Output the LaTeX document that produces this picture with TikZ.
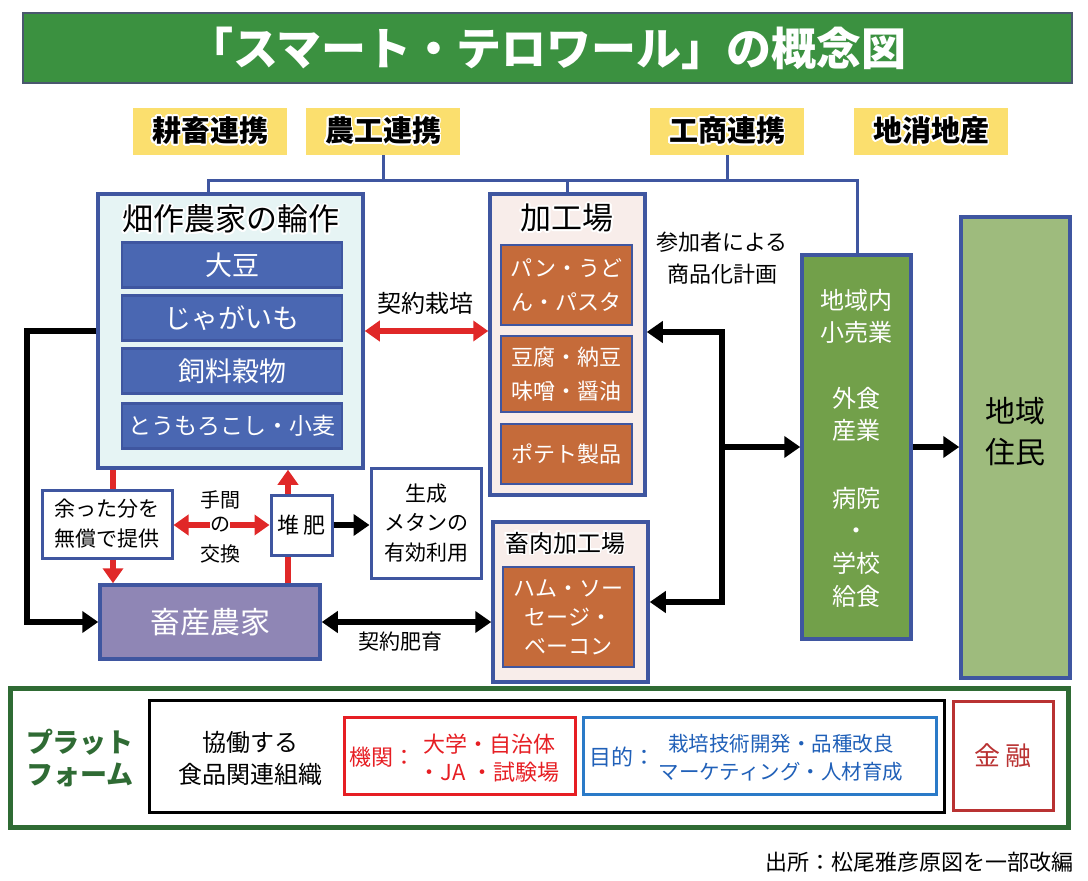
\documentclass[tikz,border=0pt]{standalone}
\usepackage{fontspec}
\setmainfont{Noto Sans CJK JP}
\usepackage[copies]{contour}
\contourlength{1.8pt}
\usetikzlibrary{positioning,arrows.meta}
\definecolor{titlegreen}{RGB}{59,145,64}
\definecolor{titleedge}{RGB}{74,88,110}
\definecolor{tagyellow}{RGB}{251,223,110}
\definecolor{frameblue}{RGB}{63,86,160}
\definecolor{hatafill}{RGB}{230,244,244}
\definecolor{cropblue}{RGB}{74,103,178}
\definecolor{prodorange}{RGB}{197,107,58}
\definecolor{plantpink}{RGB}{248,237,234}
\definecolor{livepurple}{RGB}{143,134,181}
\definecolor{retailgreen}{RGB}{114,160,74}
\definecolor{jumingreen}{RGB}{158,187,125}
\definecolor{arrred}{RGB}{224,40,40}
\definecolor{platgreen}{RGB}{47,107,52}
\definecolor{orgred}{RGB}{230,30,35}
\definecolor{orgblue}{RGB}{42,122,200}
\definecolor{textblue}{RGB}{32,96,184}
\definecolor{finred}{RGB}{185,50,50}
\newcommand\fs[2]{\fontsize{#1}{#2}\selectfont}

\begin{document}
\begin{tikzpicture}[x=1pt,y={(0pt,-1pt)},
    box/.style={draw=frameblue,line width=3.5pt,inner sep=0pt,align=center},
    crop/.style={box,line width=2.5pt,fill=cropblue,text=white,minimum width=220pt,minimum height=45pt,font=\fs{27}{30}},
    prod/.style={box,line width=2.5pt,fill=prodorange,text=white,minimum width=131pt,font=\fs{22}{34}},
    small/.style={box,line width=3pt,fill=white},
    tag/.style={fill=tagyellow,minimum width=154pt,minimum height=47pt,inner sep=0pt,font=\fs{29}{30}\bfseries},
    lbl/.style={font=\fs{21}{28},align=center,inner sep=1pt},
    link/.style={draw=frameblue,line width=3pt},
    redline/.style={>={Triangle[length=15pt,width=20pt]},draw=arrred,line width=6pt},
    blkline/.style={>={Triangle[length=16pt,width=21pt]},draw=black,line width=5.5pt}]
    \useasboundingbox (0,0) rectangle (1088,881);

    % title and keywords
    \node[fill=titlegreen,draw=titleedge,line width=1.5pt,minimum width=1049pt,minimum height=70pt,
        text=white,font=\fs{45}{48}\bfseries] (title) at (547.5,48) {「スマート・テロワール」の概念図};
    \node[tag] (kouchiku) at (210,131.5) {\contour{white}{耕畜連携}};
    \node[tag] (noukou) at (383,131.5) {\contour{white}{農工連携}};
    \node[tag] (koushou) at (727,131.5) {\contour{white}{工商連携}};
    \node[tag] (chishou) at (931,131.5) {\contour{white}{地消地産}};

    % crop farmers
    \node[box,fill=hatafill,minimum width=265pt,minimum height=274pt] (hata) at (230.5,331) {};
    \node[font=\fs{31}{32}] (hatatitle) at (231,220) {\contour{white}{畑作農家の輪作}};
    \node[crop] (daizu) at (232,265) {大豆};
    \node[crop] (jaga) at (232,318) {じゃがいも};
    \node[crop] (shiryo) at (232,371) {飼料穀物};
    \node[crop,font=\fs{23}{24}] (tomo) at (232,426) {とうもろこし・小麦};

    % livestock side
    \node[small,minimum width=130pt,minimum height=68pt,font=\fs{21}{30}] (amatta) at (107,524) {余った分を\\無償で提供};
    \node[small,minimum width=61pt,minimum height=60pt,font=\fs{22}{24}] (taihi) at (301.5,525) {堆\,肥};
    \node[small,minimum width=110pt,minimum height=110pt,font=\fs{21}{29.5}] (methane) at (426,523) {生成\\メタンの\\有効利用};
    \node[box,fill=livepurple,minimum width=220pt,minimum height=74pt,text=white,font=\fs{30}{32}] (chikusan) at (210,622) {畜産農家};

    % processing plants
    \node[box,fill=plantpink,minimum width=155pt,minimum height=301pt] (kakou) at (567.5,344.5) {};
    \node[font=\fs{31}{32}] (kakoutitle) at (567,219) {\contour{white}{加工場}};
    \node[prod,minimum height=80pt] (pan) at (566.5,285) {パン・うど\\ん・パスタ};
    \node[prod,minimum height=76pt] (tofu) at (566.5,374) {豆腐・納豆\\味噌・醤油};
    \node[prod,minimum height=60pt] (potato) at (566.5,454) {ポテト製品};
    \node[box,fill=plantpink,minimum width=155pt,minimum height=160pt] (chikuniku) at (570.5,602) {};
    \node[font=\fs{24}{26}] (chikunikutitle) at (565,544) {\contour{white}{畜肉加工場}};
    \node[prod,minimum height=100pt,font=\fs{22}{29}] (ham) at (568.5,617) {ハム・ソー\\セージ・\\ベーコン};
    \node[lbl,font=\fs{22}{32}] (sanka) at (722,258) {参加者による\\商品化計画};

    % local market and residents
    \node[box,fill=retailgreen,minimum width=109pt,minimum height=384pt] (retail) at (856.5,447) {};
    \node[lbl,text=white,font=\fs{24}{32}] (kouri) at (856.5,316) {地域内\\小売業};
    \node[lbl,text=white,font=\fs{24}{32}] (gaishoku) at (856.5,414) {外食\\産業};
    \node[lbl,text=white,font=\fs{24}{32.7}] (kyushoku) at (856.5,547) {病院\\・\\学校\\給食};
    \node[box,fill=jumingreen,minimum width=109pt,minimum height=461pt] (jumin) at (1015.5,447.5) {};
    \node[lbl,font=\fs{30}{41}] (jumintext) at (1015.5,431.5) {地域\\住民};

    % connectors
    \coordinate (hubL) at (208,180);
    \coordinate (hubR) at (857,180);
    \draw[link] (hata.north -| hubL) -- (hubL) -- (hubR) -- (retail.north -| hubR);
    \draw[link] (noukou.south) -- (noukou.south |- hubL);
    \draw[link] (koushou.south) -- (koushou.south |- hubL);
    \draw[link] (kakou.north) -- (kakou.north |- hubL);

    \draw[redline,<->] (hata.east) -- (kakou.west |- hata.east);
    \node[lbl,font=\fs{24}{26}] at (425,303) {契約栽培};
    \coordinate (redL) at (113,0);
    \coordinate (redR) at (288,0);
    \draw[redline] (hata.south -| redL) -- (amatta.north -| redL);
    \draw[redline,->] (amatta.south -| redL) -- (chikusan.north -| redL);
    \draw[redline] (chikusan.north -| redR) -- (taihi.south -| redR);
    \draw[redline,->] (taihi.north -| redR) -- (hata.south -| redR);
    \draw[redline,<->] (taihi.west -| amatta.east) -- (taihi.west);
    \node[lbl,font=\fs{20}{22}] at (220,500) {手間};
    \node[lbl,font=\fs{20}{22},fill=white,inner sep=0pt] at (220,525) {の};
    \node[lbl,font=\fs{20}{22}] at (220,554) {交換};

    \coordinate (loopL) at (27,0);
    \draw[blkline,->] (hata.west) -| (loopL |- chikusan.west) -- (chikusan.west);
    \draw[blkline,->] (taihi.east) -- (methane.west |- taihi.east);
    \draw[blkline,<->] (chikusan.east) -- (chikuniku.west |- chikusan.east);
    \node[lbl] at (400,642) {契約肥育};
    \coordinate (brTop) at (722,332);
    \coordinate (brBot) at (722,602);
    \draw[blkline,<->] (kakou.east |- brTop) -- (brTop) -- (brBot) -- (chikuniku.east |- brBot);
    \draw[blkline,->] (brTop |- retail.west) -- (retail.west);
    \draw[blkline,->] (retail.east) -- (jumin.west |- retail.east);

    % platform
    \node[draw=platgreen,line width=5pt,minimum width=1058pt,minimum height=139pt] (platform) at (539,757.5) {};
    \node[lbl,font=\fs{27}{32}\bfseries,text=platgreen] (plattext) at (80,758) {プラット\\フォーム};
    \node[draw=black,line width=3pt,minimum width=795pt,minimum height=112pt] (kyodo) at (546.5,756) {};
    \node[lbl,font=\fs{24}{32}] (kyodotext) at (250,758) {協働する\\食品関連組織};
    \node[draw=orgred,line width=3pt,minimum width=231pt,minimum height=77pt] (kikan) at (459.5,755.5) {};
    \node[text=orgred,font=\fs{22}{28},anchor=west,inner sep=0pt] (kikanhead) at (349,757) {機関：};
    \node[lbl,text=orgred,font=\fs{22}{28}] (kikantext) at (489,758) {大学・自治体\\・JA ・試験場};
    \node[draw=orgblue,line width=3pt,minimum width=353pt,minimum height=77pt] (mokuteki) at (759.5,755.5) {};
    \node[text=textblue,font=\fs{22}{28},anchor=west,inner sep=0pt] (mokutekihead) at (589,757) {目的：};
    \node[lbl,text=textblue,font=\fs{20.5}{28}] (mokutekitext) at (781,758) {栽培技術開発・品種改良\\マーケティング・人材育成};
    \node[draw=finred,line width=3pt,minimum width=100pt,minimum height=109pt,text=finred,font=\fs{26}{28}] (kinyu) at (1003,755.5) {金 融};
    \node[anchor=east,font=\fs{22}{24},inner sep=0pt] (source) at (1074,862) {出所：松尾雅彦原図を一部改編};
\end{tikzpicture}
\end{document}
